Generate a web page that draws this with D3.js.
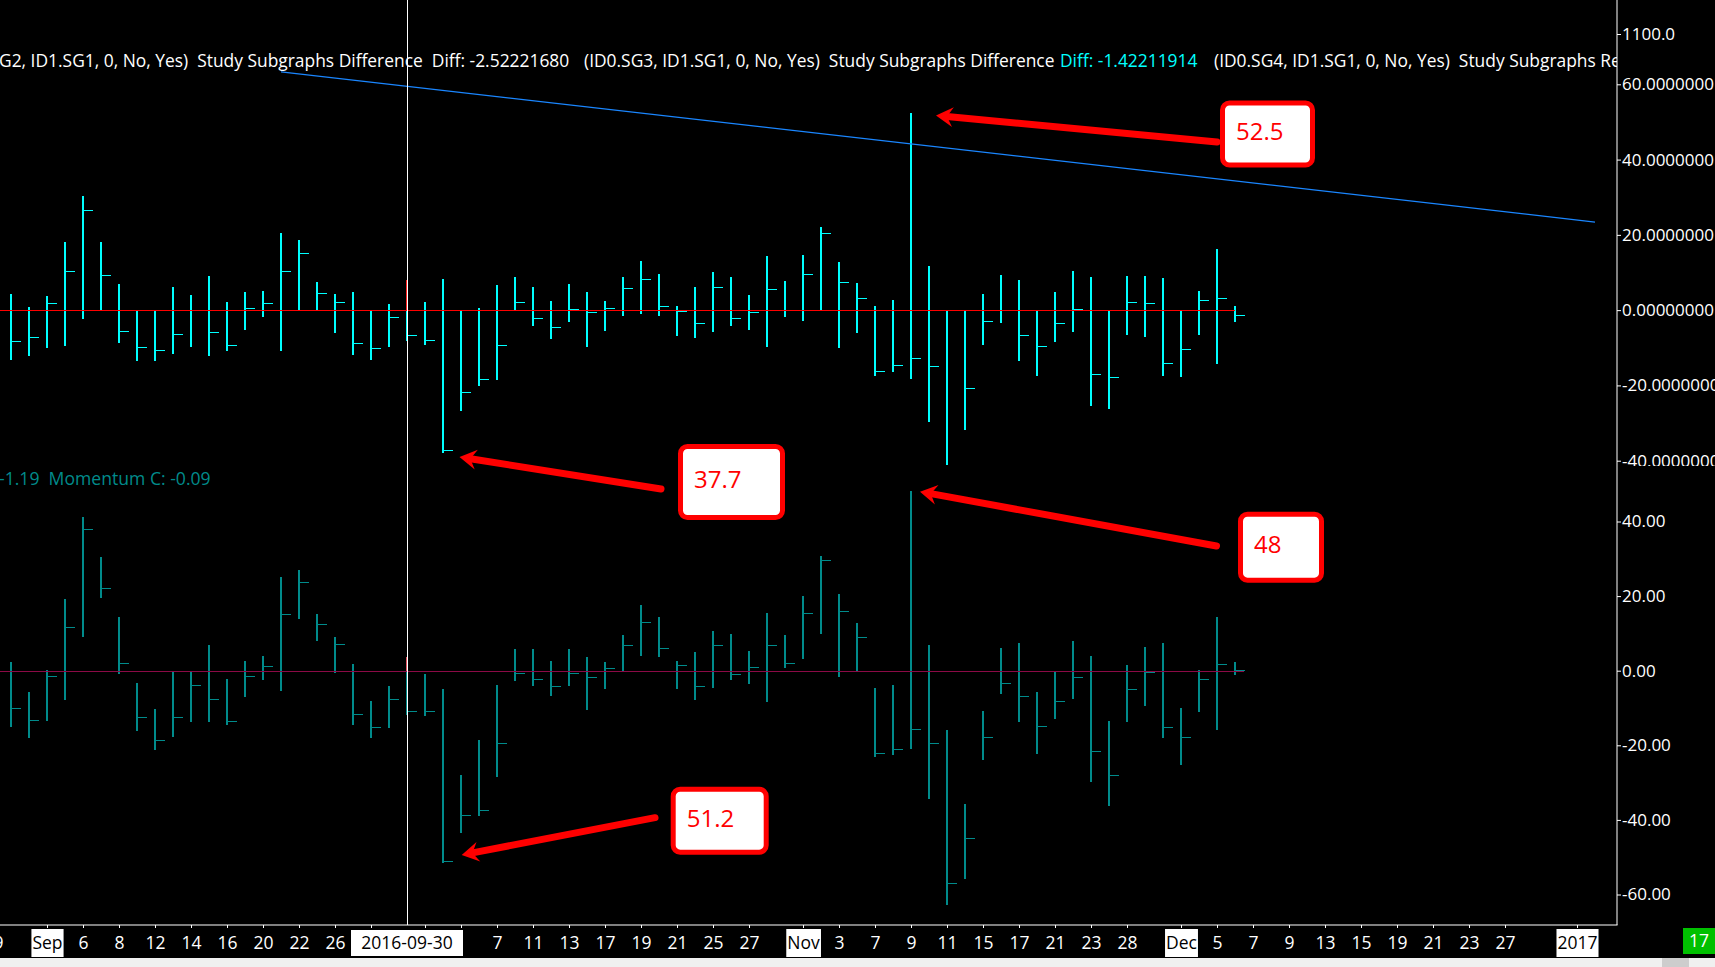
<!DOCTYPE html>
<html><head><meta charset="utf-8">
<script src="https://cdn.jsdelivr.net/npm/d3@7"></script>
<style>
html,body{margin:0;padding:0;background:#000;overflow:hidden}
svg{display:block}
text{font-family:"Open Sans","Noto Sans",sans-serif;white-space:pre}
</style></head><body>
<svg id="chart" width="1715" height="967"></svg>
<script>
// ---------------- DATA ----------------
const leadDate = "2016-08-29";
const barDates = ["2016-08-30","2016-08-31","2016-09-01","2016-09-02","2016-09-06","2016-09-07","2016-09-08","2016-09-09","2016-09-12","2016-09-13","2016-09-14","2016-09-15","2016-09-16","2016-09-19","2016-09-20","2016-09-21","2016-09-22","2016-09-23","2016-09-26","2016-09-27","2016-09-28","2016-09-29","2016-09-30","2016-10-03","2016-10-04","2016-10-05","2016-10-06","2016-10-07","2016-10-10","2016-10-11","2016-10-12","2016-10-13","2016-10-14","2016-10-17","2016-10-18","2016-10-19","2016-10-20","2016-10-21","2016-10-24","2016-10-25","2016-10-26","2016-10-27","2016-10-28","2016-10-31","2016-11-01","2016-11-02","2016-11-03","2016-11-04","2016-11-07","2016-11-08","2016-11-09","2016-11-10","2016-11-11","2016-11-14","2016-11-15","2016-11-16","2016-11-17","2016-11-18","2016-11-21","2016-11-22","2016-11-23","2016-11-25","2016-11-28","2016-11-29","2016-11-30","2016-12-01","2016-12-02","2016-12-05","2016-12-06"];
const futureDates = ["2016-12-07","2016-12-08","2016-12-09","2016-12-12","2016-12-13","2016-12-14","2016-12-15","2016-12-16","2016-12-19","2016-12-20","2016-12-21","2016-12-22","2016-12-23","2016-12-26","2016-12-27","2016-12-28","2016-12-29","2016-12-30","2017-01-02","2017-01-03"];

// Upper study: Study Subgraphs Difference (high / low / close)
const diffHigh = [4.3,0.9,3.8,18.1,30.3,18.1,7.0,0,0,6.2, 4.1,9.1,2.2,4.9,5.1,20.5,18.7,7.5,4.3,4.9, 0,1.7,8.0,2.2,8.3,0,0.6,6.7,8.8,6.2, 2.5,7.0,4.9,2.5,8.8,13.1,9.6,1.1,6.2,10.2, 8.8,4.1,14.4,7.8,14.7,22.0,12.7,7.2,1.1,2.7, 52.5,11.8,0,0,4.3,9.4,8.0,0,4.9,10.4, 8.8,0,9.1,9.1,8.6,0,5.1,16.3,1.1];
const diffLow = [-12.9,-11.8,-9.7,-9.2,-2.0,0,-8.4,-13.2,-13.2,-11.3, -9.5,-11.8,-10.5,-5.0,-1.5,-10.5,0,0,-5.7,-11.6, -12.9,-9.5,-8.0,-8.9,-37.7,-26.4,-19.8,-18.2,0,-3.9, -7.3,-2.8,-9.5,-5.2,-1.2,-0.7,-1.2,-6.5,-7.1,-5.5, -3.9,-5.0,-9.5,-1.5,-2.6,0,-9.8,-5.8,-17.2,-16.2, -18.0,-29.4,-41.0,-31.7,-8.9,-3.1,-13.2,-17.2,-8.1,-5.5, -25.2,-25.9,-6.3,-6.8,-17.2,-17.4,-6.3,-14.0,-2.8];
const diffClose = [-8.2,-7.2,1.9,10.3,26.5,9.3,-5.6,-9.8,-10.6,-6.4, 0,-5.8,-9.3,0.5,1.9,10.3,15.1,4.5,2.1,-8.8, -10.1,-1.9,-6.6,-8.0,-37.2,-21.8,-18.3,-9.3,2.1,-2.1, -4.5,0.3,-0.5,0.5,5.8,8.2,1.1,-0.3,-3.4,6.1, -2.1,-0.5,5.6,0,9.5,20.6,7.6,3.1,-16.3,-14.7, -12.6,-14.9,0,-20.7,-2.9,0,-6.6,-9.5,-3.4,0.3, -17.0,-17.8,2.1,1.9,-14.1,-10.3,2.7,3.2,-1.3];

// Lower study: Momentum (high / low / close)
const momHigh = [2.2,-5.6,0.1,19.2,41.2,30.5,14.3,-3.4,-10.4,-0.2, -0.2,6.8,-2.1,2.5,3.9,25.1,27.0,15.1,9.0,1.7, -8.0,-4.2,3.6,-1.0,-5.0,-27.9,-18.7,-3.7,5.7,5.7, 2.5,5.7,3.6,2.2,9.5,17.6,14.3,2.5,4.9,10.6, 9.8,5.2,15.4,9.5,20.0,30.7,20.5,12.7,-4.7,-3.9, 48.2,6.8,-16.0,-35.7,-10.9,6.0,7.3,-5.8,-0.2,7.9, 3.9,-13.4,1.4,6.3,7.3,-10.1,0.1,14.3,2.2];
const momLow = [-14.7,-17.9,-13.1,-7.7,9.2,19.7,-0.7,-16.0,-20.9,-17.4, -13.4,-13.6,-14.4,-6.9,-2.1,-5.3,14.1,8.2,-0.4,-14.2, -17.9,-15.0,-11.7,-12.0,-51.2,-43.2,-38.6,-28.1,-2.6,-3.9, -6.6,-3.7,-10.4,-4.7,-0.2,4.1,3.9,-4.7,-7.7,-4.5, -2.3,-3.4,-8.0,0.9,3.3,10.0,-1.3,0,-22.8,-22.2, -20.8,-34.1,-62.5,-55.6,-23.8,-6.1,-13.4,-22.0,-12.8,-7.4, -29.7,-35.9,-13.6,-9.1,-17.9,-24.9,-10.7,-15.5,-1.0];
const momClose = [-10.1,-13.3,-1.5,11.7,38.0,22.1,2.0,-12.5,-18.5,-12.5, -3.9,-7.7,-13.4,-1.5,1.2,15.1,23.7,12.5,7.1,-11.5, -15.2,-7.7,-10.7,-10.9,-51.0,-38.6,-37.3,-19.5,-0.7,-2.3, -4.2,-0.7,-1.8,0.6,6.8,13.0,6.0,1.4,-4.2,6.8, -1.0,0.9,6.8,2.0,15.4,29.6,15.9,9.1,-22.0,-21.1, -15.5,-19.5,-56.9,-44.8,-17.9,-3.4,-6.9,-14.7,-8.2,-1.8, -21.4,-27.9,-5.0,-0.4,-15.0,-17.9,-2.1,1.7,0.2];

// Trend line drawn on the upper study
const trendDates = ["2016-09-21","2017-01-03"];
const trendValues = [63.3, 23.4];

// Axis ticks
const topTicks = [60,40,20,0,-20,-40];
const bottomTicks = [40,20,0,-20,-40,-60];
const priceTicks = [1100];
const xTickDates = ["2016-08-29","2016-09-01","2016-09-06","2016-09-08","2016-09-12","2016-09-14","2016-09-16","2016-09-20","2016-09-22","2016-09-26","2016-09-28","2016-10-03","2016-10-05","2016-10-07","2016-10-11","2016-10-13","2016-10-17","2016-10-19","2016-10-21","2016-10-25","2016-10-27","2016-11-01","2016-11-03","2016-11-07","2016-11-09","2016-11-11","2016-11-15","2016-11-17","2016-11-21","2016-11-23","2016-11-28","2016-12-01","2016-12-05","2016-12-07","2016-12-09","2016-12-13","2016-12-15","2016-12-19","2016-12-21","2016-12-23","2016-12-27","2017-01-02"];
// labels hidden under the cursor date box are left empty
const xTickLabels = ["29","Sep","6","8","12","14","16","20","22","26","","","","7","11","13","17","19","21","25","27","Nov","3","7","9","11","15","17","21","23","28","Dec","5","7","9","13","15","19","21","23","27","2017"];
const monthLabels = ["Sep","Oct","Nov","Dec","2017"];
const cursorDate = "2016-09-30";
const cursorLabel = "2016-09-30";

// Header texts
const headerSegments = [
  {text:"G2, ID1.SG1, 0, No, Yes)  Study Subgraphs Difference  Diff: -2.52221680", color:"#ffffff"},
  {text:"(ID0.SG3, ID1.SG1, 0, No, Yes)  Study Subgraphs Difference", color:"#ffffff"},
  {text:"Diff: -1.42211914", color:"#00ffff"},
  {text:"(ID0.SG4, ID1.SG1, 0, No, Yes)  Study Subgraphs Re", color:"#ffffff"}
];
const momentumLegend = "-1.19  Momentum C: -0.09";

// Annotations
const annotLabels = ["52.5","37.7","48","51.2"];
const annotPanels = ["top","top","bottom","bottom"];
const annotDates = ["2016-11-09","2016-10-04","2016-11-09","2016-10-04"];
const annotValues = [52.5,-37.7,48,-51.2];

// ---------------- LAYOUT ----------------
const W = 1715, H = 967;
const axisX = 1617, axisY = 925, panelSplit = 466;
const svg = d3.select("#chart");
const defs = svg.append("defs");
defs.append("clipPath").attr("id","clipTop").append("rect").attr("x",0).attr("y",0).attr("width",axisX).attr("height",panelSplit);
defs.append("clipPath").attr("id","clipBot").append("rect").attr("x",0).attr("y",panelSplit).attr("width",axisX).attr("height",axisY-panelSplit);
defs.append("clipPath").attr("id","clipHeader").append("rect").attr("x",0).attr("y",0).attr("width",axisX).attr("height",panelSplit);
defs.append("clipPath").attr("id","clipTopAxis").append("rect").attr("x",axisX).attr("y",0).attr("width",W-axisX).attr("height",panelSplit);

svg.append("rect").attr("width",W).attr("height",H).attr("fill","#000");

const dates = [leadDate, ...barDates, ...futureDates];
const x = d3.scalePoint().domain(dates).range([-7, 1595]);
const yTop = d3.scaleLinear().domain([-40, 60]).range([460.7, 84.3]);
const yBot = d3.scaleLinear().domain([-60, 40]).range([894.5, 521.5]);
const yPrice = d3.scaleLinear().domain([1100, 1110]).range([34, 0]);

function bars(g, yScale, hi, lo, cl, color){
  const data = barDates.map((d,i)=>({d, h:hi[i], l:lo[i], c:cl[i]}));
  g.selectAll("rect.hl").data(data).join("rect").attr("class","hl")
    .attr("x", d=>x(d.d)-1).attr("width",2)
    .attr("y", d=>Math.round(yScale(d.h)))
    .attr("height", d=>Math.max(1, Math.round(yScale(d.l))-Math.round(yScale(d.h))+1))
    .attr("fill", color);
  g.selectAll("rect.cl").data(data).join("rect").attr("class","cl")
    .attr("x", d=>x(d.d)+1).attr("width",9)
    .attr("y", d=>Math.round(yScale(d.c))).attr("height",1)
    .attr("fill", color);
}

const lastX = x(barDates[barDates.length-1]);

// Upper panel
const gTop = svg.append("g").attr("clip-path","url(#clipTop)");
bars(gTop, yTop, diffHigh, diffLow, diffClose, "#00ffff");
gTop.append("rect").attr("x",0).attr("width",lastX).attr("y",Math.round(yTop(0))).attr("height",1).attr("fill","#ff0000");
const ci = barDates.indexOf(cursorDate);
gTop.append("rect").attr("x",x(cursorDate)-1).attr("width",1)
  .attr("y",Math.round(yTop(diffHigh[ci]))).attr("height",Math.round(yTop(0))-Math.round(yTop(diffHigh[ci])))
  .attr("fill","#ff2020");
gTop.append("line").attr("x1",x(trendDates[0])).attr("y1",yTop(trendValues[0]))
  .attr("x2",x(trendDates[1])).attr("y2",yTop(trendValues[1]))
  .attr("stroke","#1a86ff").attr("stroke-width",1.2);

// Lower panel
const gBot = svg.append("g").attr("clip-path","url(#clipBot)");
bars(gBot, yBot, momHigh, momLow, momClose, "#008b8b");
gBot.append("rect").attr("x",0).attr("width",lastX+9).attr("y",Math.round(yBot(0))).attr("height",1).attr("fill","#8c0a46");
gBot.append("rect").attr("x",x(cursorDate)-1).attr("width",1)
  .attr("y",Math.round(yBot(momHigh[ci]))).attr("height",Math.round(yBot(0))-Math.round(yBot(momHigh[ci])))
  .attr("fill","#e05060");

// Cursor line
svg.append("rect").attr("x",x(cursorDate)).attr("width",1).attr("y",0).attr("height",axisY).attr("fill","#ffffff");

// Header text
const gHead = svg.append("g").attr("clip-path","url(#clipHeader)");
const headX = [-1, 584, 1060, 1214];
headerSegments.forEach((s,i)=>{
  gHead.append("text").attr("x",headX[i]).attr("y",67).attr("font-size",17.4)
    .attr("fill",s.color).text(s.text);
});
svg.append("text").attr("x",-1).attr("y",485).attr("font-size",17.6).attr("fill","#008b8b").text(momentumLegend);

// Right axis line
svg.append("rect").attr("x",axisX-0.5).attr("width",1).attr("y",0).attr("height",axisY).attr("fill","#ffffff");

function styleAxis(g){
  g.select(".domain").remove();
  g.selectAll(".tick line").attr("stroke","#ffffff");
  g.selectAll(".tick text").attr("fill","#ffffff").attr("font-size",17)
    .attr("font-family",'"Open Sans","Noto Sans",sans-serif');
}
const fmtTop = v => v===0 ? "0.00000000" : v.toFixed(7);
const gTopAxisWrap = svg.append("g").attr("clip-path","url(#clipTopAxis)");
gTopAxisWrap.append("g").attr("transform",`translate(${axisX},0)`)
  .call(d3.axisRight(yTop).tickValues(topTicks).tickSize(4).tickPadding(1).tickFormat(fmtTop)).call(styleAxis);
gTopAxisWrap.append("g").attr("transform",`translate(${axisX},0)`)
  .call(d3.axisRight(yPrice).tickValues(priceTicks).tickSize(4).tickPadding(1).tickFormat(d=>d.toFixed(1))).call(styleAxis);
svg.append("g").attr("transform",`translate(${axisX},0)`)
  .call(d3.axisRight(yBot).tickValues(bottomTicks).tickSize(4).tickPadding(1).tickFormat(d=>d.toFixed(2))).call(styleAxis);

// Bottom date axis
svg.append("rect").attr("x",0).attr("width",axisX+0.5).attr("y",axisY-0.5).attr("height",1).attr("fill","#ffffff");
const labelMap = new Map(xTickDates.map((d,i)=>[d,xTickLabels[i]]));
const gX = svg.append("g").attr("transform",`translate(0,${axisY})`)
  .call(d3.axisBottom(x).tickValues(xTickDates).tickSize(3).tickPadding(9).tickFormat(d=>labelMap.get(d)));
gX.select(".domain").remove();
gX.selectAll(".tick line").attr("stroke","#ffffff");
gX.selectAll(".tick text").attr("fill","#ffffff").attr("font-size",17.5)
  .attr("font-family",'"Open Sans","Noto Sans",sans-serif');
gX.selectAll(".tick").each(function(d){
  const t = d3.select(this).select("text");
  if (monthLabels.includes(labelMap.get(d))){
    const bb = t.node().getBBox();
    d3.select(this).insert("rect","text").attr("x",bb.x-1).attr("width",bb.width+2)
      .attr("y",4).attr("height",28).attr("fill","#ffffff");
    t.attr("fill","#000000");
  }
});
// cursor date label
const cl = svg.append("g").attr("transform",`translate(${x(cursorDate)},${axisY})`);
const ct = cl.append("text").attr("text-anchor","middle").attr("y",24).attr("font-size",17.5).attr("fill","#000").text(cursorLabel);
cl.insert("rect","text").attr("x",-56).attr("width",112).attr("y",5).attr("height",26).attr("fill","#ffffff");

// Bottom strip and status box
svg.append("rect").attr("x",0).attr("y",958).attr("width",W).attr("height",H-958).attr("fill","#f0f0f0");
svg.append("rect").attr("x",1662).attr("y",958).attr("width",27).attr("height",H-958).attr("fill","#cdcdcd");
svg.append("rect").attr("x",1683).attr("y",928).attr("width",32).attr("height",26).attr("fill","#00c000");
svg.append("text").attr("x",1699).attr("y",947).attr("text-anchor","middle").attr("font-size",17.5).attr("fill","#ffffff").text("17");

// ---------------- ANNOTATIONS ----------------
const annotGeom = [
  {tip:[25,3],   box:[309,-12,95,67],  tail:[306,29.5]},
  {tip:[16.5,5], box:[235,-8,107,76],  tail:[218,37]},
  {tip:[9,0],    box:[327,20,86,71],   tail:[305.5,54.3]},
  {tip:[18.7,-6.7], box:[227.7,-75,98,68], tail:[212,-44]}
];
const gAnn = svg.append("g");
annotLabels.forEach((lab,i)=>{
  const ys = annotPanels[i]==="top" ? yTop : yBot;
  const ax = x(annotDates[i]), ay = ys(annotValues[i]);
  const g = annotGeom[i];
  const tip = [ax+g.tip[0], ay+g.tip[1]];
  const tail = [ax+g.tail[0], ay+g.tail[1]];
  const dx = tip[0]-tail[0], dy = tip[1]-tail[1], L = Math.hypot(dx,dy);
  const ux = dx/L, uy = dy/L, nx = -uy, ny = ux;
  const notch = [tip[0]-ux*11, tip[1]-uy*11];
  gAnn.append("line").attr("x1",tail[0]).attr("y1",tail[1]).attr("x2",notch[0]).attr("y2",notch[1])
    .attr("stroke","#ff0000").attr("stroke-width",7).attr("stroke-linecap","round");
  const w1 = [tip[0]-ux*17+nx*10, tip[1]-uy*17+ny*10];
  const w2 = [tip[0]-ux*17-nx*10, tip[1]-uy*17-ny*10];
  gAnn.append("path").attr("d",`M${tip}L${w1}L${notch}L${w2}Z`).attr("fill","#ff0000");
  const bx = ax+g.box[0], by = ay+g.box[1], bw = g.box[2], bh = g.box[3];
  gAnn.append("rect").attr("x",bx+2.5).attr("y",by+2.5).attr("width",bw-5).attr("height",bh-5)
    .attr("rx",7).attr("fill","#ffffff").attr("stroke","#ff0000").attr("stroke-width",5);
  gAnn.append("text").attr("x",bx+16).attr("y",by+bh/2+6).attr("font-size",24).attr("fill","#ff0000").text(lab);
});
</script>
</body></html>
